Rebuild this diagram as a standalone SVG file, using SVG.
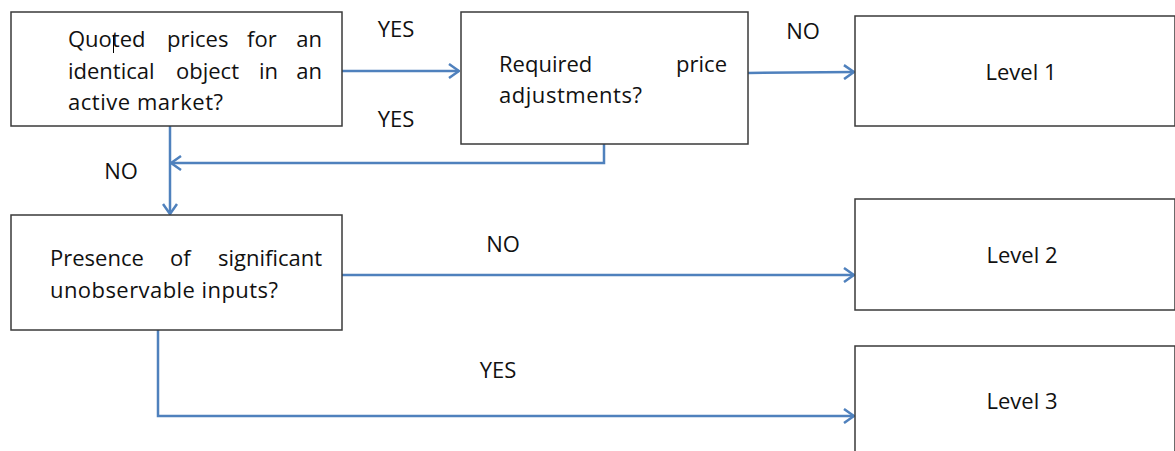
<svg xmlns="http://www.w3.org/2000/svg" width="1175" height="451" viewBox="0 0 1175 451">
<style>
.box{fill:#fff;stroke:#3a3a3a;stroke-width:1.5}
.t{font-family:"Open Sans","Noto Sans","Liberation Sans",sans-serif;font-size:22px;fill:#111}
.c{fill:none;stroke:#4f81bd;stroke-width:2.5}
.e{text-anchor:end}
.m{text-anchor:middle}
</style>
<defs>
<marker id="ah" viewBox="0 0 12 16" refX="11" refY="8" markerWidth="12" markerHeight="16" markerUnits="userSpaceOnUse" orient="auto">
<path d="M1,1 L11,8 L1,15" fill="none" stroke="#4f81bd" stroke-width="2.5"/>
</marker>
</defs>
<rect width="1175" height="451" fill="#fff"/>
<g id="connectors">
<path class="c" d="M342,71 H459" marker-end="url(#ah)"/>
<path class="c" d="M748,73 L854,72" marker-end="url(#ah)"/>
<path class="c" d="M604,144 V163 H171" marker-end="url(#ah)"/>
<path class="c" d="M170,126 V214" marker-end="url(#ah)"/>
<path class="c" d="M342,275 H854" marker-end="url(#ah)"/>
<path class="c" d="M158,330 V416 H854" marker-end="url(#ah)"/>
</g>
<g id="labels">
<text class="t m" x="396" y="37">YES</text>
<text class="t m" x="396" y="127">YES</text>
<text class="t m" x="121" y="179">NO</text>
<text class="t m" x="803" y="39">NO</text>
<text class="t m" x="503" y="252">NO</text>
<text class="t m" x="498" y="378">YES</text>
</g>
<g id="node-quoted">
<rect class="box" x="11" y="12" width="331" height="114"/>
<text class="t" x="68" y="47">Quoted</text>
<text class="t" x="167" y="47">prices</text>
<text class="t" x="247" y="47">for</text>
<text class="t e" x="322" y="47">an</text>
<text class="t" x="68" y="79">identical</text>
<text class="t" x="176" y="79">object</text>
<text class="t" x="259" y="79">in</text>
<text class="t e" x="322" y="79">an</text>
<text class="t" x="68" y="110" textLength="155" lengthAdjust="spacing">active market?</text>
<line x1="113.5" y1="35" x2="113.5" y2="53" stroke="#000" stroke-width="1"/>
</g>
<g id="node-adjust">
<rect class="box" x="461" y="12" width="287" height="132"/>
<text class="t" x="499" y="72">Required</text>
<text class="t e" x="727" y="72">price</text>
<text class="t" x="499" y="103" textLength="143" lengthAdjust="spacing">adjustments?</text>
</g>
<g id="node-level1">
<rect class="box" x="855" y="16" width="320" height="110"/>
<text class="t m" x="1021" y="80">Level 1</text>
</g>
<g id="node-presence">
<rect class="box" x="11" y="215" width="331" height="115"/>
<text class="t" x="50" y="266">Presence</text>
<text class="t" x="170" y="266">of</text>
<text class="t e" x="322" y="266">significant</text>
<text class="t" x="50" y="298" textLength="228" lengthAdjust="spacing">unobservable inputs?</text>
</g>
<g id="node-level2">
<rect class="box" x="855" y="199" width="320" height="111"/>
<text class="t m" x="1022" y="263">Level 2</text>
</g>
<g id="node-level3">
<rect class="box" x="855" y="346" width="320" height="120"/>
<text class="t m" x="1022" y="409">Level 3</text>
</g>
</svg>
